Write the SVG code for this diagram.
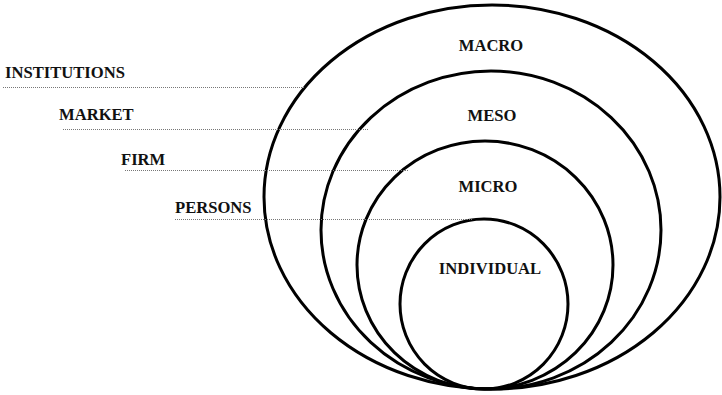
<svg xmlns="http://www.w3.org/2000/svg" width="722" height="395" viewBox="0 0 722 395">
<style>
.ring{fill:none;stroke:#000;stroke-width:3}
.lead{stroke:#777;stroke-width:1;stroke-dasharray:1,1;fill:none}
text{font-family:"Liberation Serif","Times New Roman",serif;font-weight:bold;font-size:16.6px;fill:#111}
.c{text-anchor:middle}
</style>
<rect width="722" height="395" fill="#fff"/>
<g id="macro"><ellipse class="ring" cx="492" cy="197" rx="228" ry="192"/><text class="c" x="491" y="51">MACRO</text></g>
<g id="meso"><ellipse class="ring" cx="491" cy="230" rx="170" ry="159"/><text class="c" x="492" y="121">MESO</text></g>
<g id="micro"><ellipse class="ring" cx="485" cy="265" rx="128" ry="124"/><text class="c" x="488" y="192">MICRO</text></g>
<g id="individual"><ellipse class="ring" cx="484" cy="304" rx="84" ry="85"/><text class="c" x="490" y="274">INDIVIDUAL</text></g>
<g id="connectors">
<line class="lead" x1="3" y1="87.5" x2="304" y2="87.5"/>
<line class="lead" x1="63" y1="129.5" x2="369" y2="129.5"/>
<line class="lead" x1="125" y1="170.5" x2="409" y2="170.5"/>
<line class="lead" x1="175" y1="219.5" x2="472" y2="219.5"/>
</g>
<g id="institutions"><text x="5" y="78">INSTITUTIONS</text></g>
<g id="market"><text x="59" y="120">MARKET</text></g>
<g id="firm"><text x="121" y="165">FIRM</text></g>
<g id="persons"><text x="175" y="213">PERSONS</text></g>
</svg>
